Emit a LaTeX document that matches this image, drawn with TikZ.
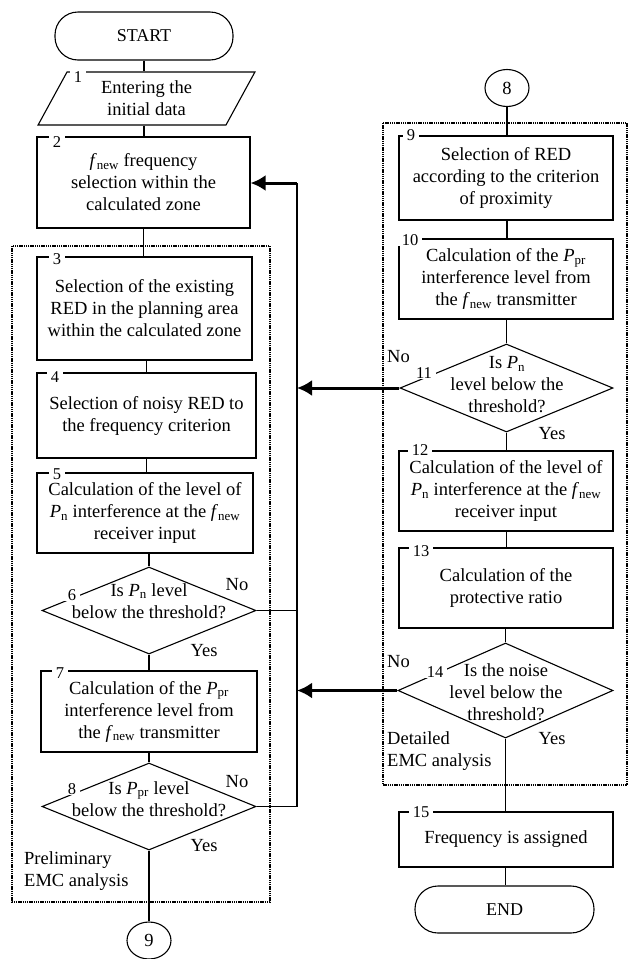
\documentclass[tikz,border=0pt]{standalone}
\usepackage{fontspec}
\setmainfont{Liberation Serif}
\usetikzlibrary{shapes.geometric,arrows.meta}
\newcommand{\myfnew}{\textit{f}\textsubscript{new}}
\newcommand{\myPn}{\textit{P}\textsubscript{n}}
\newcommand{\myPpr}{\textit{P}\textsubscript{pr}}
\begin{document}
\begin{tikzpicture}[x=1pt,y=-1pt,
  every node/.style={font=\fontsize{18.5}{22}\selectfont},
  procbox/.style={draw, line width=1.1pt, rectangle, align=center, inner sep=2pt},
  decis/.style={draw, line width=1.1pt, diamond, inner sep=0pt},
  dtext/.style={align=center, inner sep=0pt},
  numlab/.style={fill=white, inner xsep=4pt, inner ysep=0.5pt, font=\fontsize{16.5}{18}\selectfont},
  cline/.style={line width=1.1pt},
  fback/.style={line width=3pt, -{Latex[length=15pt,width=16pt]}},
  grpframe/.style={line width=2.3pt, dash pattern=on 1.4pt off 0.8pt},
  termin/.style={draw, line width=1.1pt, rectangle, rounded corners=23pt, minimum width=178pt, minimum height=48pt, font=\fontsize{18}{22}\selectfont},
  connc/.style={draw, line width=1.1pt, ellipse, inner sep=0pt, minimum width=44pt, minimum height=37pt},
  yn/.style={inner sep=0pt}
]
\useasboundingbox (0,0) rectangle (629,959);

% group frames
\draw[grpframe] (12,246) rectangle (270,902);
\draw[grpframe] (383,123) rectangle (627,785);

% left column
\node[termin] (start) at (144,36) {START};
\node[draw, line width=1.1pt, trapezium, trapezium left angle=64.7, trapezium right angle=115.3,
      trapezium stretches=true, minimum width=217pt, minimum height=53pt, inner sep=0pt, align=center]
      (p1) at (146.5,98.5) {Entering the\\initial data};
\node[procbox, minimum width=213pt, minimum height=91pt] (b2) at (143.5,182.5)
  {\myfnew{} frequency\\selection within the\\calculated zone};
\node[procbox, minimum width=215pt, minimum height=103pt] (b3) at (144.5,308.5)
  {Selection of the existing\\RED in the planning area\\within the calculated zone};
\node[procbox, minimum width=219pt, minimum height=85pt] (b4) at (146.5,415.5)
  {Selection of noisy RED to\\the frequency criterion};
\node[procbox, minimum width=216pt, minimum height=80pt] (b5) at (145,513)
  {Calculation of the level of\\\myPn{} interference at the \myfnew\\receiver input};
\node[decis, minimum width=214pt, minimum height=87pt] (d6) at (149,610.5) {};
\node[dtext] (d6t) at (149,601) {Is \myPn{} level\\below the threshold?};
\node[procbox, minimum width=216pt, minimum height=81pt] (b7) at (149,711.5)
  {Calculation of the \myPpr\\interference level from\\the \myfnew{} transmitter};
\node[decis, minimum width=214pt, minimum height=87pt] (d8) at (149,806.5) {};
\node[dtext] (d8t) at (149,799) {Is \myPpr{} level\\below the threshold?};
\node[connc] (c9) at (149,940.5) {9};

% right column
\node[connc] (c8) at (507,88) {8};
\node[procbox, minimum width=214pt, minimum height=84pt] (b9) at (506,178)
  {Selection of RED\\according to the criterion\\of proximity};
\node[procbox, minimum width=214pt, minimum height=80pt] (b10) at (506,279)
  {Calculation of the \myPpr\\interference level from\\the \myfnew{} transmitter};
\node[decis, minimum width=213pt, minimum height=88pt] (d11) at (506.5,388) {};
\node[dtext] (d11t) at (507,385) {Is \myPn\\level below the\\threshold?};
\node[procbox, minimum width=214pt, minimum height=80pt] (b12) at (506,491)
  {Calculation of the level of\\\myPn{} interference at the \myfnew\\receiver input};
\node[procbox, minimum width=214pt, minimum height=80pt] (b13) at (506,588)
  {Calculation of the\\protective ratio};
\node[decis, minimum width=215pt, minimum height=95pt] (d14) at (505.5,690.5) {};
\node[dtext] (d14t) at (506,692) {Is the noise\\level below the\\threshold?};
\node[procbox, minimum width=214pt, minimum height=55pt] (b15) at (506,839.5)
  {Frequency is assigned};
\node[termin, minimum width=179pt, minimum height=47pt] (end) at (504.5,909.5) {END};

% connectors left
\draw[cline] (start.south) -- (start.south |- p1.north);
\draw[cline] (start.south |- p1.south) -- (start.south |- b2.north);
\draw[cline] (b2.south) -- (b2.south |- b3.north);
\draw[cline] (b4.north |- b3.south) -- (b4.north);
\draw[cline] (b4.south) -- (b4.south |- b5.north);
\draw[cline] (d6.north |- b5.south) -- (d6.north);
\draw[cline] (d6.south) -- (b7.north);
\draw[cline] (b7.south) -- (d8.north);
\draw[cline] (d8.south) -- (c9.north);

% connectors right
\draw[cline] (c8.south) -- (c8.south |- b9.north);
\draw[cline] (c8.south |- b9.south) -- (c8.south |- b10.north);
\draw[cline] (d11.north |- b10.south) -- (d11.north);
\draw[cline] (d11.south) -- (d11.south |- b12.north);
\draw[cline] (d11.south |- b12.south) -- (d11.south |- b13.north);
\draw[cline] (d14.north |- b13.south) -- (d14.north);
\draw[cline] (d14.south) -- (d14.south |- b15.north);
\draw[cline] (d14.south |- b15.south) -- (d14.south |- end.north);

% feedback
\coordinate (fbtop) at (297,183);
\draw[cline] (d8.east) -- (d8.east -| fbtop) -- (fbtop);
\draw[cline] (d6.east) -- (d6.east -| fbtop);
\draw[fback] (fbtop) -- (b2.east |- fbtop);
\draw[fback] (d11.west) -- (d11.west -| fbtop);
\draw[fback] (d14.west) -- (d14.west -| fbtop);

% numbers
\node[numlab] (n1) at (78,77) {1};
\node[numlab] (n2) at (57,142) {2};
\node[numlab] (n3) at (57,259) {3};
\node[numlab] (n4) at (55,377) {4};
\node[numlab] (n5) at (57,474) {5};
\node[numlab] (n6) at (72,595) {6};
\node[numlab] (n7) at (60,673) {7};
\node[numlab] (n8) at (72,789) {8};
\node[numlab] (n9) at (411,135) {9};
\node[numlab] (n10) at (410,240) {10};
\node[numlab] (n11) at (424,373) {11};
\node[numlab] (n12) at (420,450) {12};
\node[numlab] (n13) at (421,551) {13};
\node[numlab] (n14) at (435,672) {14};
\node[numlab] (n15) at (421,812) {15};

% yes/no labels
\node[yn] (no6) at (237,585) {No};
\node[yn] (yes6) at (204,651) {Yes};
\node[yn] (no8) at (237,782) {No};
\node[yn] (yes8) at (204,846) {Yes};
\node[yn] (no11) at (398.5,357) {No};
\node[yn] (yes11) at (552,434) {Yes};
\node[yn] (no14) at (398.5,662) {No};
\node[yn] (yes14) at (552,739) {Yes};

% group captions
\node[anchor=west, align=left, inner sep=0pt] (detl) at (387,751) {Detailed\\EMC analysis};
\node[anchor=west, align=left, inner sep=0pt] (prel) at (24,871) {Preliminary\\EMC analysis};
\end{tikzpicture}
\end{document}
